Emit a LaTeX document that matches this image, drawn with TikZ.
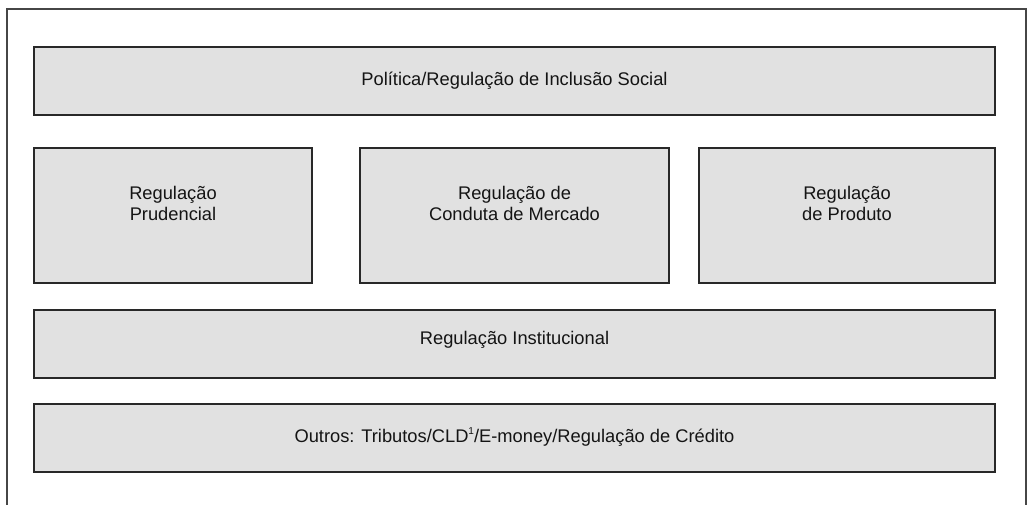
\documentclass[tikz,border=0pt]{standalone}
\usepackage{fontspec}
\setmainfont{Liberation Sans}
\begin{document}
\begin{tikzpicture}[x=1pt,y=-1pt,
  regbox/.style={draw={rgb,255:red,40;green,40;blue,40}, line width=1.6pt,
    fill={rgb,255:red,225;green,225;blue,225}, inner sep=0pt, outer sep=0pt,
    minimum height=#1},
  regbox/.default=68,
  regtext/.style={align=center, inner sep=0pt, font=\fontsize{18.3}{21}\selectfont, text={rgb,255:red,20;green,20;blue,20}},
  frame/.style={draw={rgb,255:red,70;green,70;blue,70}, line width=2pt}
]
\useasboundingbox (0,0) rectangle (1027,505);
\coordinate (fbl) at (7,506);
\coordinate (ftl) at (7,9);
\coordinate (ftr) at (1025.5,9);
\coordinate (fbr) at (1025.5,506);
\draw[frame] (fbl) -- (ftl) -- (ftr) -- (fbr);

\node[regbox, minimum width=961pt] (incl) at (514.5,81) {};
\node[regbox=135, minimum width=278pt] (prud) at (173,215.5) {};
\node[regbox=135, minimum width=309pt] (cond) at (514.5,215.5) {};
\node[regbox=135, minimum width=296pt] (prod) at (847,215.5) {};
\node[regbox, minimum width=961pt] (inst) at (514.5,344) {};
\node[regbox, minimum width=961pt] (outr) at (514.5,438) {};

\node[regtext] (tincl) at ([yshift=0pt]incl.center) {Política/Regulação de Inclusão Social};
\node[regtext] (tprud) at ([yshift=12pt]prud.center) {Regulação\\Prudencial};
\node[regtext] (tcond) at ([yshift=12pt]cond.center) {Regulação de\\Conduta de Mercado};
\node[regtext] (tprod) at ([yshift=12pt]prod.center) {Regulação\\de Produto};
\node[regtext] (tinst) at ([yshift=4pt]inst.center) {Regulação Institucional};
\node[regtext] (toutr) at ([yshift=1pt]outr.center) {Outros: Tributos/CLD\raisebox{0.75ex}{\fontsize{10}{10}\selectfont 1}/E-money/Regulação de Crédito};
\end{tikzpicture}
\end{document}
